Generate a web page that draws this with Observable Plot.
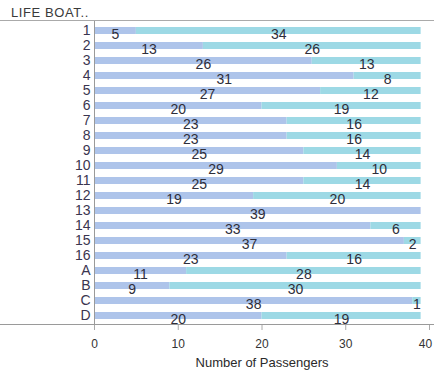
<!DOCTYPE html>
<html>
<head>
<meta charset="utf-8">
<script src="https://cdn.jsdelivr.net/npm/d3@7"></script>
<script src="https://cdn.jsdelivr.net/npm/@observablehq/plot@0.6"></script>
<style>
  html, body { margin: 0; padding: 0; background: #fff; }
  #wrap { width: 434px; height: 376px; position: relative; font-family: "Liberation Sans", Arial, sans-serif; }
  #title { height: 20px; border-bottom: 1px solid #aaa; box-shadow: 0 1px 0 #e6e6e6; box-sizing: content-box; }
  #title span { display: block; padding: 6px 0 0 11px; line-height: 13px; font-size: 13px; letter-spacing: 0.6px; color: #3a3a3a; }
</style>
</head>
<body>
<div id="wrap">
  <div id="title"><span>LIFE BOAT..</span></div>
  <div id="chart"></div>
</div>
<script>
const boats = ["1","2","3","4","5","6","7","8","9","10","11","12","13","14","15","16","A","B","C","D"];
const firstValues = [5,13,26,31,27,20,23,23,25,29,25,19,39,33,37,23,11,9,38,20];
const secondValues = [34,26,13,8,12,19,16,16,14,10,14,20,0,6,2,16,28,30,1,19];
const seriesNames = ["first","second"];
const seriesColors = ["#aec4ea","#9dd9e5"];
const xTicks = [0,10,20,30,40];
const xLabel = "Number of Passengers";

const table = [];
boats.forEach((b, i) => {
  table.push({boat: b, series: seriesNames[0], value: firstValues[i]});
  table.push({boat: b, series: seriesNames[1], value: secondValues[i]});
});
const labelled = table.filter(d => d.value > 0);

const axisLine = (index, scales, values, dimensions) => {
  const g = document.createElementNS("http://www.w3.org/2000/svg", "line");
  const y = dimensions.height - dimensions.marginBottom + 0.5;
  g.setAttribute("x1", 0);
  g.setAttribute("x2", dimensions.width);
  g.setAttribute("y1", y);
  g.setAttribute("y2", y);
  g.setAttribute("stroke", "#9a9a9a");
  return g;
};

const chart = Plot.plot({
  width: 434,
  height: 355,
  marginTop: 0,
  marginBottom: 52,
  marginLeft: 94,
  marginRight: 5,
  style: {fontFamily: "'Liberation Sans', Arial, sans-serif", background: "#fff", overflow: "visible"},
  x: {domain: [0, 40], ticks: xTicks, tickSize: 6, tickPadding: 9, label: null, tickFormat: d => String(d)},
  y: {domain: boats, paddingInner: 0.55, paddingOuter: 0.34, label: null, tickSize: 0, tickPadding: 4},
  color: {domain: seriesNames, range: seriesColors},
  marks: [
    Plot.barX(table, Plot.stackX({y: "boat", x: "value", fill: "series", order: seriesNames})),
    Plot.ruleX([0], {stroke: "#9a9a9a"}),
    axisLine,
    Plot.text(labelled, Plot.stackX({y: "boat", x: "value", z: "series", order: seriesNames, text: d => String(d.value), fill: "#2e2e3a", fontSize: 14, dy: 4})),
    Plot.text([xLabel], {frameAnchor: "bottom", dy: 42, fontSize: 13, fill: "#2a2a2a", letterSpacing: "0.3px"})
  ]
});

chart.querySelectorAll('g[aria-label="y-axis"] text, g[aria-label="y-axis tick label"] text').forEach(t => { t.setAttribute("font-size", 14); t.style.fill = "#3a3550"; });
const xTexts = chart.querySelectorAll('g[aria-label="x-axis"] text, g[aria-label="x-axis tick label"] text');
xTexts.forEach(t => { t.setAttribute("font-size", 12); t.style.fill = "#333"; });
if (xTexts.length) { const last = xTexts[xTexts.length - 1]; last.setAttribute("dx", -4); }
chart.querySelectorAll('g[aria-label="x-axis"] path, g[aria-label="x-axis tick"] path').forEach(p => { p.setAttribute("stroke", "#aaa"); });
document.getElementById("chart").appendChild(chart);
</script>
</body>
</html>
